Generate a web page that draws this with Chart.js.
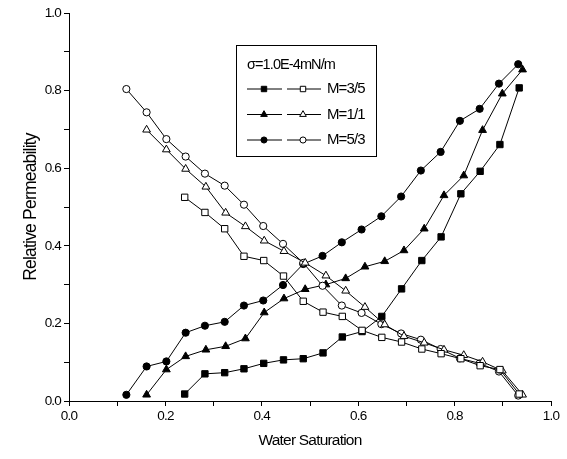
<!DOCTYPE html>
<html>
<head>
<meta charset="utf-8">
<script src="https://cdn.jsdelivr.net/npm/chart.js@4/dist/chart.umd.min.js"></script>
<style>
	html, body { margin: 0; padding: 0; background: #fff; }
	#wrap { width: 567px; height: 459px; }
</style>
</head>
<body>
<div id="wrap"><canvas id="kr_chart" width="567" height="459"></canvas></div>
<script>
// water saturation + rel. perm, one set per viscosity ratio
const sw_m35 = [0.240, 0.282, 0.323, 0.363, 0.404, 0.445, 0.486, 0.527, 0.567, 0.608, 0.649, 0.690, 0.732, 0.772, 0.813, 0.853, 0.894, 0.934];
const krw_m35 = [0.018, 0.070, 0.073, 0.083, 0.097, 0.106, 0.109, 0.124, 0.165, 0.179, 0.218, 0.289, 0.362, 0.423, 0.534, 0.592, 0.661, 0.807];
const kro_m35 = [0.525, 0.486, 0.444, 0.373, 0.362, 0.322, 0.257, 0.229, 0.218, 0.182, 0.164, 0.152, 0.134, 0.122, 0.109, 0.091, 0.081, 0.018];

const sw_m11 = [0.161, 0.202, 0.242, 0.284, 0.325, 0.366, 0.405, 0.446, 0.490, 0.533, 0.574, 0.614, 0.655, 0.695, 0.737, 0.778, 0.819, 0.858, 0.899, 0.941];
const krw_m11 = [0.016, 0.081, 0.115, 0.132, 0.141, 0.161, 0.228, 0.264, 0.288, 0.300, 0.316, 0.346, 0.360, 0.388, 0.444, 0.530, 0.581, 0.698, 0.792, 0.854];
const kro_m11 = [0.699, 0.648, 0.598, 0.552, 0.485, 0.450, 0.413, 0.386, 0.356, 0.323, 0.284, 0.242, 0.197, 0.167, 0.150, 0.132, 0.118, 0.101, 0.078, 0.016];

const sw_m53 = [0.119, 0.161, 0.202, 0.242, 0.282, 0.323, 0.363, 0.403, 0.444, 0.486, 0.526, 0.566, 0.607, 0.648, 0.689, 0.730, 0.771, 0.811, 0.852, 0.892, 0.932];
const krw_m53 = [0.016, 0.089, 0.102, 0.176, 0.194, 0.204, 0.246, 0.259, 0.299, 0.353, 0.374, 0.409, 0.442, 0.476, 0.527, 0.594, 0.642, 0.722, 0.753, 0.818, 0.868];
const kro_m53 = [0.804, 0.744, 0.675, 0.630, 0.586, 0.555, 0.506, 0.451, 0.405, 0.356, 0.297, 0.246, 0.227, 0.198, 0.174, 0.158, 0.134, 0.110, 0.097, 0.076, 0.014];

const seriesLabels = ['M=3/5', 'M=1/1', 'M=5/3'];
const legendTitle = '\u03C3=1.0E-4mN/m';
const xTitle = 'Water Saturation',
	  yTitle = 'Relative Permeability';

const fontFam = '"Liberation Sans", Arial, sans-serif';

function toXY(xs, ys) {
	return xs.map((x, i) => ({ x: x, y: ys[i] }));
}

// one style per ratio: marker shape + size
const markStyle = [
	{ style: 'rect', radius: 4.5 },
	{ style: 'triangle', radius: 4.5 },
	{ style: 'circle', radius: 3.6 }
];

function makeSet(xs, ys, i, filled) {
	return {
		data: toXY(xs, ys),
		borderColor: '#000',
		borderWidth: 1,
		pointStyle: markStyle[i].style,
		pointRadius: markStyle[i].radius,
		pointBorderWidth: 1,
		pointBorderColor: '#000',
		pointBackgroundColor: filled ? '#000' : '#fff',
		showLine: true,
		fill: false,
		tension: 0
	};
}

const datasets = [
	makeSet(sw_m35, kro_m35, 0, false),
	makeSet(sw_m11, kro_m11, 1, false),
	makeSet(sw_m53, kro_m53, 2, false),
	makeSet(sw_m35, krw_m35, 0, true),
	makeSet(sw_m11, krw_m11, 1, true),
	makeSet(sw_m53, krw_m53, 2, true)
];

// tight text like the original export
const tightText = {
	id: 'tightText',
	beforeDraw(chart) {
		chart.ctx.letterSpacing = '-0.8px';
	}
};

// legend box: filled marker line, open marker line, label
const boxLegend = {
	id: 'boxLegend',
	afterDraw(chart) {
		const ctx = chart.ctx;
		const bx = 236.5, by = 45.5, bw = 140, bh = 111;
		ctx.save();
		ctx.letterSpacing = '-0.9px';
		ctx.strokeStyle = '#000';
		ctx.lineWidth = 1;
		ctx.strokeRect(bx, by, bw, bh);
		ctx.fillStyle = '#000';
		ctx.font = '14.5px ' + fontFam;
		ctx.textBaseline = 'middle';
		ctx.textAlign = 'left';
		ctx.fillText(legendTitle, 247, 65);
		ctx.font = '15px ' + fontFam;
		const rows = [89, 114.5, 140];
		seriesLabels.forEach((lbl, i) => {
			const y = rows[i];
			ctx.beginPath();
			ctx.moveTo(247, y); ctx.lineTo(282, y);
			ctx.moveTo(287, y); ctx.lineTo(321, y);
			ctx.stroke();
			[[264, '#000'], [303, '#fff']].forEach(([mx, fillc]) => {
				ctx.fillStyle = fillc;
				ctx.strokeStyle = '#000';
				ctx.lineWidth = 1;
				Chart.helpers.drawPoint(ctx, {
					pointStyle: markStyle[i].style,
					radius: markStyle[i].radius * 0.85,
					borderWidth: 1,
					rotation: 0
				}, mx, y);
			});
			ctx.fillStyle = '#000';
			ctx.fillText(lbl, 327, y);
		});
		ctx.restore();
	}
};

const ctx = document.getElementById('kr_chart');
new Chart(ctx, {
	type: 'scatter',
	data: { datasets: datasets },
	options: {
		responsive: false,
		animation: false,
		events: [],
		layout: {
			padding: { top: 13, right: 16, left: 0, bottom: 0 }
		},
		scales: {
			x: {
				type: 'linear',
				min: 0,
				max: 1,
				afterFit: (scale) => { scale.height = 58; },
				border: { color: '#000', width: 1 },
				grid: { drawOnChartArea: false, tickLength: 5, color: '#000' },
				ticks: {
					stepSize: 0.1,
					autoSkip: false,
					maxRotation: 0,
					padding: 2,
					color: '#000',
					font: { family: fontFam, size: 13.5 },
					callback: (value) => {
						let v = Math.round(value * 10);
						return v % 2 === 0 ? (v / 10).toFixed(1) : '';
					}
				},
				title: {
					display: true,
					text: xTitle,
					color: '#000',
					font: { family: fontFam, size: 15.5 },
					padding: { top: 0, bottom: 9 }
				}
			},
			y: {
				type: 'linear',
				min: 0,
				max: 1,
				afterFit: (scale) => { scale.width = 69; },
				border: { color: '#000', width: 1 },
				grid: { drawOnChartArea: false, tickLength: 5, color: '#000' },
				ticks: {
					stepSize: 0.1,
					autoSkip: false,
					padding: 3,
					color: '#000',
					font: { family: fontFam, size: 13.5 },
					callback: (value) => {
						let v = Math.round(value * 10);
						return v % 2 === 0 ? (v / 10).toFixed(1) : '';
					}
				},
				title: {
					display: true,
					text: yTitle,
					color: '#000',
					font: { family: fontFam, size: 17.5 },
					padding: { top: 21, bottom: 0 }
				}
			}
		},
		plugins: {
			legend: { display: false },
			tooltip: { enabled: false }
		}
	},
	plugins: [tightText, boxLegend]
});
</script>
</body>
</html>
